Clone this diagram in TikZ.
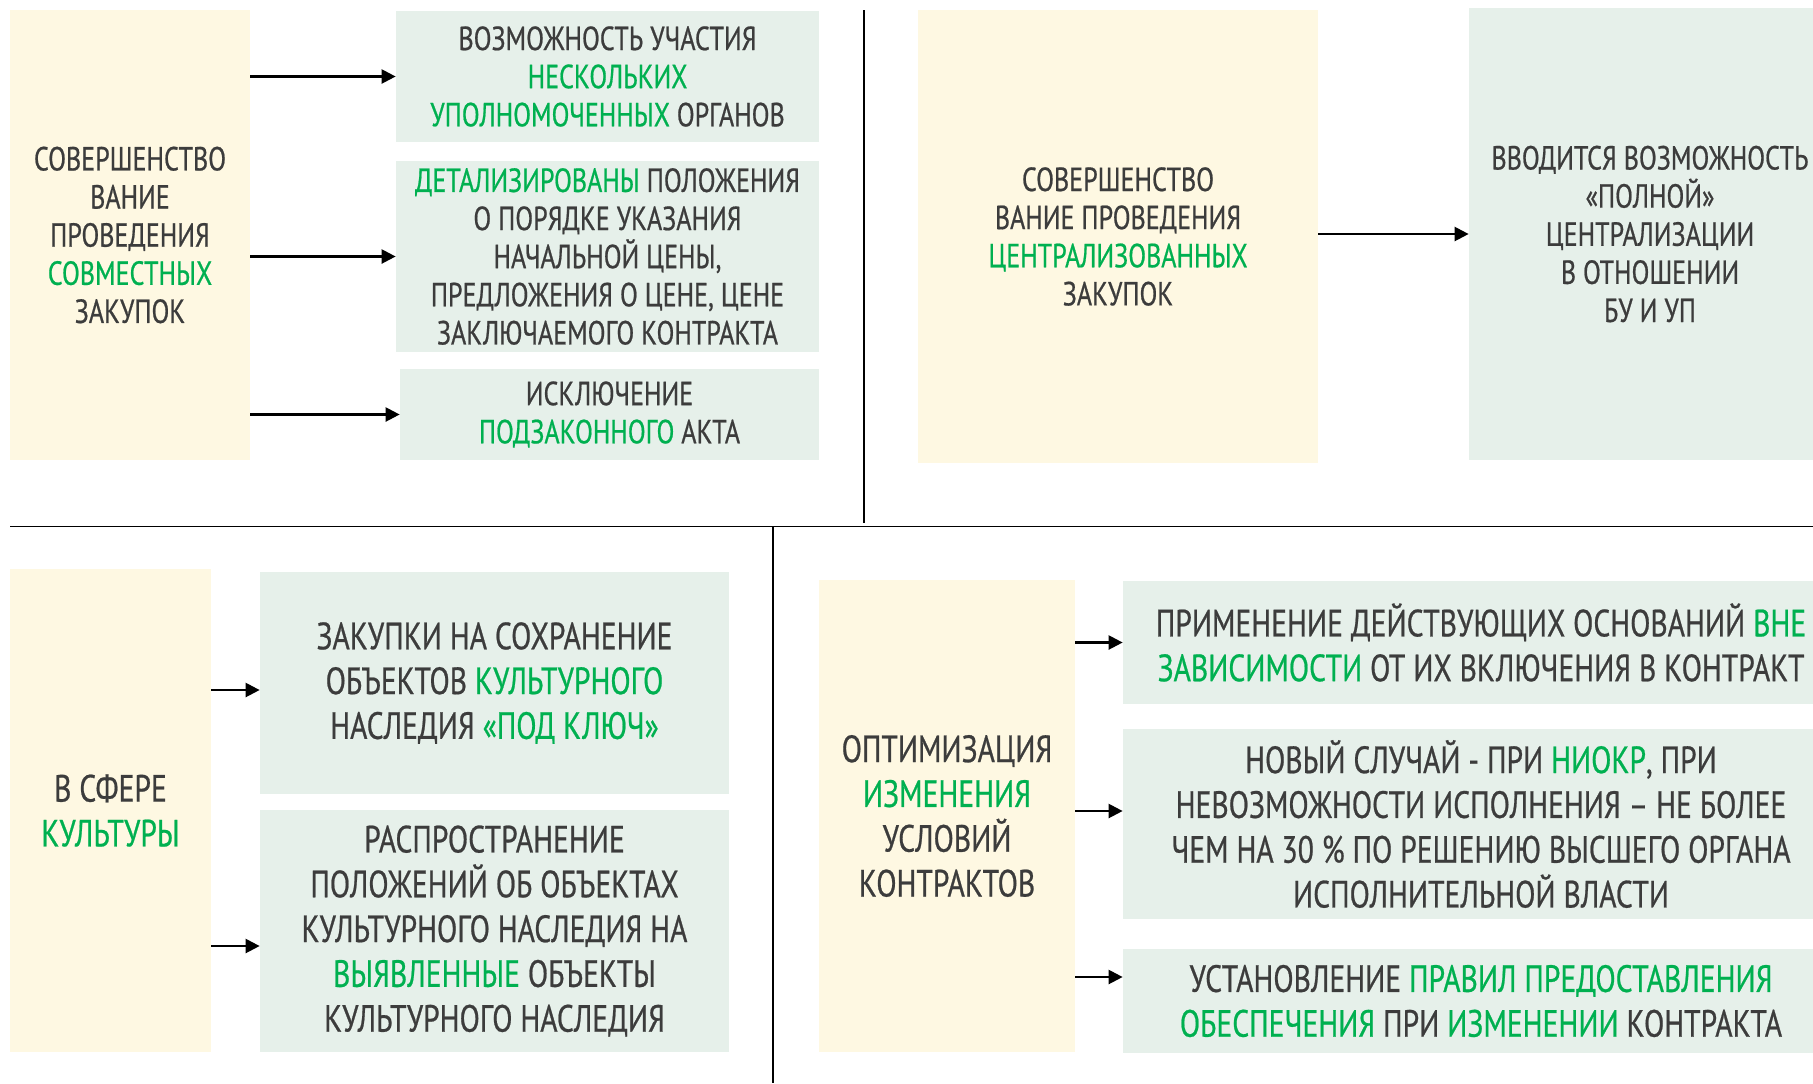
\documentclass[tikz,border=0pt]{standalone}
\usepackage{fontspec}
\setmainfont{PT Sans}[FakeStretch=0.78, FakeBold=0.6]
\usepackage{xcolor}
\usetikzlibrary{arrows.meta,positioning}

\definecolor{creamfill}{HTML}{FEF8E2}
\definecolor{mintfill}{HTML}{E6F0EA}
\definecolor{grntext}{HTML}{00B050}
\definecolor{textgray}{HTML}{3C3C3C}
\newcommand{\grn}[1]{\textcolor{grntext}{#1}}

\begin{document}
\begin{tikzpicture}[x=0.02cm, y=-0.02cm,
    cream/.style={fill=creamfill, inner sep=0pt, align=center, text=textgray},
    mint/.style={fill=mintfill, inner sep=0pt, align=center, text=textgray},
    sz/.style 2 args={minimum width=#1*0.02cm, minimum height=#2*0.02cm},
    small/.style={font=\fontsize{19}{21.7}\selectfont},
    big/.style={font=\fontsize{21.6}{25.5}\selectfont},
    arr/.style={-{Triangle[length=8pt,width=8pt]}, line width=1.3pt},
    sepline/.style={line width=1.1pt}]
    \clip (0,0) rectangle (1813,1083);
    \fill[white] (0,0) rectangle (1813,1083);

    \node[cream, small, sz={240}{450}] (coop) at (130,235) {СОВЕРШЕНСТВО\\ВАНИЕ\\ПРОВЕДЕНИЯ\\\grn{СОВМЕСТНЫХ}\\ЗАКУПОК};
    \node[mint, small, sz={423}{131}] (part) at (607.5,76.5) {ВОЗМОЖНОСТЬ УЧАСТИЯ\\\grn{НЕСКОЛЬКИХ}\\\grn{УПОЛНОМОЧЕННЫХ} ОРГАНОВ};
    \node[mint, small, sz={423}{191}] (price) at (607.5,256.5) {\grn{ДЕТАЛИЗИРОВАНЫ} ПОЛОЖЕНИЯ\\О ПОРЯДКЕ УКАЗАНИЯ\\НАЧАЛЬНОЙ ЦЕНЫ,\\ПРЕДЛОЖЕНИЯ О ЦЕНЕ, ЦЕНЕ\\ЗАКЛЮЧАЕМОГО КОНТРАКТА};
    \node[mint, small, sz={419}{91}] (act) at (609.5,414.5) {ИСКЛЮЧЕНИЕ\\\grn{ПОДЗАКОННОГО} АКТА};

    \node[cream, small, sz={400}{453}] (centr) at (1118,236.5) {СОВЕРШЕНСТВО\\ВАНИЕ ПРОВЕДЕНИЯ\\\grn{ЦЕНТРАЛИЗОВАННЫХ}\\ЗАКУПОК};
    \node[mint, small, sz={362}{452}] (fullc) at (1650,234) {ВВОДИТСЯ ВОЗМОЖНОСТЬ\\«ПОЛНОЙ»\\ЦЕНТРАЛИЗАЦИИ\\В ОТНОШЕНИИ\\БУ И УП};

    \node[cream, big, sz={201}{483}] (cult) at (110.5,810.5) {В СФЕРЕ\\\grn{КУЛЬТУРЫ}};
    \node[mint, big, sz={469}{222}] (keys) at (494.5,683) {ЗАКУПКИ НА СОХРАНЕНИЕ\\ОБЪЕКТОВ \grn{КУЛЬТУРНОГО}\\НАСЛЕДИЯ \grn{«ПОД КЛЮЧ»}};
    \node[mint, big, sz={469}{242}] (found) at (494.5,931) {РАСПРОСТРАНЕНИЕ\\ПОЛОЖЕНИЙ ОБ ОБЪЕКТАХ\\КУЛЬТУРНОГО НАСЛЕДИЯ НА\\\grn{ВЫЯВЛЕННЫЕ} ОБЪЕКТЫ\\КУЛЬТУРНОГО НАСЛЕДИЯ};

    \node[cream, big, sz={256}{472}] (optim) at (947,816) {ОПТИМИЗАЦИЯ\\\grn{ИЗМЕНЕНИЯ}\\УСЛОВИЙ\\КОНТРАКТОВ};
    \node[mint, big, sz={716}{123}] (grounds) at (1481,642.5) {ПРИМЕНЕНИЕ ДЕЙСТВУЮЩИХ ОСНОВАНИЙ \grn{ВНЕ}\\\grn{ЗАВИСИМОСТИ} ОТ ИХ ВКЛЮЧЕНИЯ В КОНТРАКТ};
    \node[mint, big, sz={716}{190}] (newcase) at (1481,824) {НОВЫЙ СЛУЧАЙ - ПРИ \grn{НИОКР}, ПРИ\\НЕВОЗМОЖНОСТИ ИСПОЛНЕНИЯ – НЕ БОЛЕЕ\\ЧЕМ НА 30 \% ПО РЕШЕНИЮ ВЫСШЕГО ОРГАНА\\ИСПОЛНИТЕЛЬНОЙ ВЛАСТИ};
    \node[mint, big, sz={716}{104}] (secur) at (1481,1001) {УСТАНОВЛЕНИЕ \grn{ПРАВИЛ ПРЕДОСТАВЛЕНИЯ}\\\grn{ОБЕСПЕЧЕНИЯ} ПРИ \grn{ИЗМЕНЕНИИ} КОНТРАКТА};

    \draw[sepline] (864,10) -- (864,523);
    \draw[sepline] (10,526.5) -- (1813,526.5);
    \draw[sepline] (773,526.5) -- (773,1083);

    \draw[arr] (coop.east |- part.west) -- (part.west);
    \draw[arr] (coop.east |- price.west) -- (price.west);
    \draw[arr] (coop.east |- act.west) -- (act.west);
    \draw[arr] (centr.east |- fullc.west) -- (fullc.west);
    \draw[arr] ([yshift=-7*0.02cm]cult.east |- keys.west) -- ([yshift=-7*0.02cm]keys.west);
    \draw[arr] ([yshift=-15*0.02cm]cult.east |- found.west) -- ([yshift=-15*0.02cm]found.west);
    \draw[arr] (optim.east |- grounds.west) -- (grounds.west);
    \draw[arr] ([yshift=13*0.02cm]optim.east |- newcase.west) -- ([yshift=13*0.02cm]newcase.west);
    \draw[arr] ([yshift=24*0.02cm]optim.east |- secur.west) -- ([yshift=24*0.02cm]secur.west);
\end{tikzpicture}
\end{document}
